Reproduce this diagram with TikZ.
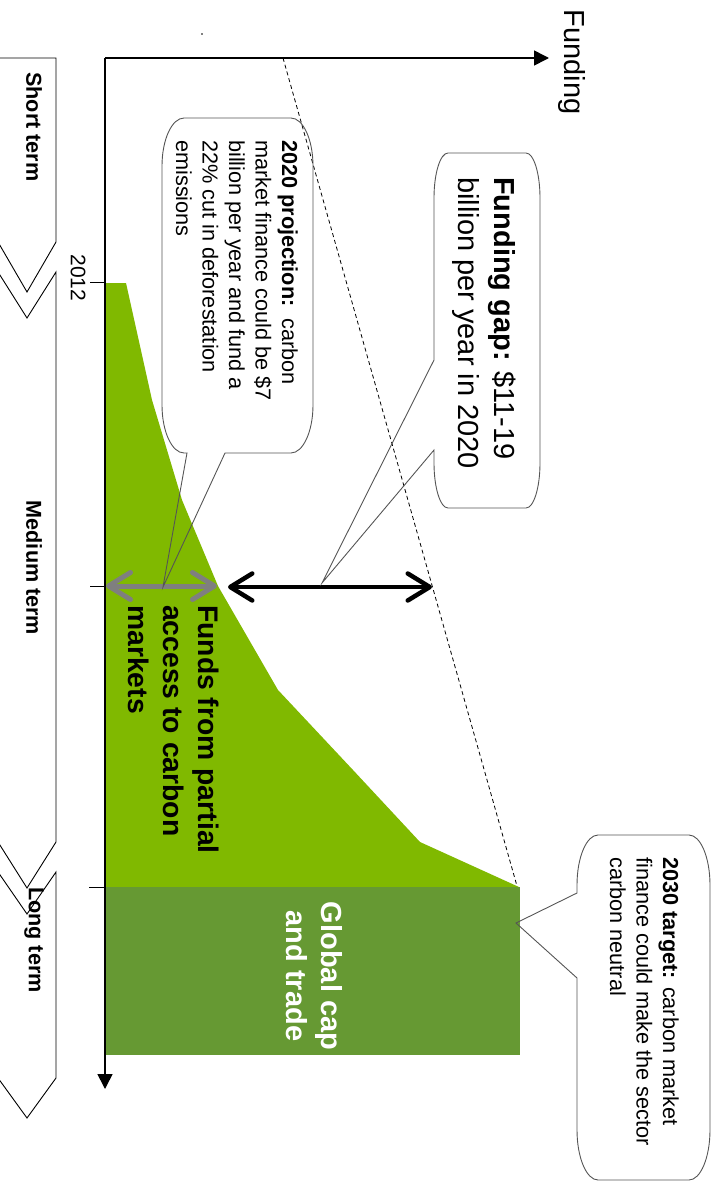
\documentclass[tikz,border=0pt]{standalone}
\usepackage{fontspec}
\setmainfont{Liberation Sans}
\usetikzlibrary{arrows.meta}
\definecolor{leafgreen}{RGB}{128,185,0}
\definecolor{capgreen}{RGB}{102,153,51}
\definecolor{fundgray}{RGB}{127,127,127}
\definecolor{bubbleline}{RGB}{85,85,85}

% Rounded speech bubble with elliptical corners.
% #1 left, #2 top, #3 right, #4 bottom, #5 x radius, #6 y radius,
% #7 path piece on the bottom edge, #8 path piece on the left edge
\newcommand{\bubblepath}[8]{%
  ({#1+#5},#2) -- ({#3-#5},#2)
  .. controls ({#3-0.45*#5},#2) and (#3,{#2+0.45*#6}) .. (#3,{#2+#6})
  -- (#3,{#4-#6})
  .. controls (#3,{#4-0.45*#6}) and ({#3-0.45*#5},#4) .. ({#3-#5},#4)
  #7 -- ({#1+#5},#4)
  .. controls ({#1+0.45*#5},#4) and (#1,{#4-0.45*#6}) .. (#1,{#4-#6})
  #8 -- (#1,{#2+#6})
  .. controls (#1,{#2+0.45*#6}) and ({#1+0.45*#5},#2) .. ({#1+#5},#2) -- cycle}

\begin{document}
\begin{tikzpicture}[x=1pt,y=-1pt,
  phase/.style={draw=black, line width=0.9pt, fill=white},
  axisline/.style={line width=1.6pt, -{Triangle[length=15pt,width=15pt]}},
  tickline/.style={line width=0.9pt},
  bubble/.style={draw=bubbleline, line width=0.9pt},
  vtext/.style={rotate=-90, inner sep=0pt},
  gaparrow/.style={line width=4.5pt, >={Straight Barb[length=22pt,width=27pt,round]}, <->},
  trend/.style={line width=0.8pt, dash pattern=on 4pt off 3pt}
]
\useasboundingbox (0,0) rectangle (720,1183);

% time phases along the left edge
\draw[phase] (-2,58) -- (56,58) -- (56,242) -- (27,292) -- (-2,242) -- cycle;
\draw[phase] (-2,272) -- (27,318) -- (56,272) -- (56,842) -- (27,888) -- (-2,842) -- cycle;
\draw[phase] (-2,872) -- (27,914) -- (56,872) -- (56,1078) -- (27,1118) -- (-2,1078) -- cycle;
\node[vtext, font=\bfseries\fontsize{21.6}{26}\selectfont] (short) at (34,127) {Short term};
\node[vtext, font=\bfseries\fontsize{21.6}{26}\selectfont] (medium) at (34,568) {Medium term};
\node[vtext, font=\bfseries\fontsize{21.6}{26}\selectfont] (long) at (34,940) {Long term};

% funding areas
\fill[leafgreen] (105,283) -- (126,283) -- (152,400) -- (182,500) -- (218,586)
  -- (278,690) -- (353,770) -- (420,842) -- (519,887) -- (105,887) -- cycle;
\fill[capgreen] (105,887) rectangle (520,1055);

% axes
\coordinate (origin) at (105,58);
\coordinate (timeend) at (105,1089);
\coordinate (fundend) at (549,58);
\draw[axisline] (origin) -- (timeend);
\draw[axisline] (origin) -- (fundend);
\node[vtext, font=\fontsize{29}{34}\selectfont] (fundlabel) at (572,62) {Funding};

% year ticks
\coordinate (y2012) at (105,282);
\coordinate (y2020) at (105,586);
\coordinate (y2030) at (105,887);
\draw[tickline] (y2012) -- ++(-15,0);
\draw[tickline] (y2020) -- ++(-15,0);
\draw[tickline] (y2030) -- ++(-16,0);
\node[vtext, font=\fontsize{21}{25}\selectfont] (yr2012) at (78,278) {2012};

% required funding trend
\coordinate (trendtop) at (283,58);
\coordinate (trendend) at (517,886);
\draw[trend] (trendtop) -- (trendend);

% market funds and funding gap in 2020
\coordinate (mktlow) at (106,586);
\coordinate (mkthigh) at (217,586);
\coordinate (gaplow) at (228,587);
\coordinate (gaphigh) at (432,587);
\draw[gaparrow, draw=fundgray, line width=5pt] (mktlow) -- (mkthigh);
\draw[gaparrow, draw=black] (gaplow) -- (gaphigh);

\node[vtext, anchor=north west, align=left,
  font=\bfseries\fontsize{28.3}{35}\selectfont] (fundstext) at (219,605)
  {Funds from partial\\access to carbon\\markets};
\node[vtext, anchor=north, align=center, text=white,
  font=\bfseries\fontsize{29}{35}\selectfont] (captext) at (343,976)
  {Global cap\\and trade};

% speech bubbles
\coordinate (projtip) at (163,587);
\coordinate (gaptip) at (322,583);
\coordinate (targettip) at (516,923);
\draw[bubble] \bubblepath{162}{118}{313}{453}{22}{48}
  {-- (225,453) -- (projtip) -- (187,453)}{};
\draw[bubble] \bubblepath{434}{153}{540}{508}{14}{45}
  {}{-- (434,450) -- (gaptip) -- (434,360)};
\draw[bubble] \bubblepath{577}{835}{710}{1180}{21}{50}
  {}{-- (577,978) -- (targettip) -- (577,893)};

\node[vtext, anchor=north west, align=left,
  font=\fontsize{21.7}{26.5}\selectfont] (projtext) at (298,140)
  {\textbf{2020 projection:}\ \ carbon\\market finance could be \$7\\billion per year and fund a\\22\% cut in deforestation\\emissions};
\node[vtext, anchor=north west, align=left,
  font=\fontsize{29}{36}\selectfont] (gaptext) at (516,177)
  {\textbf{Funding gap:} \$11-19\\billion per year in 2020};
\node[vtext, anchor=north west, align=left,
  font=\fontsize{21.7}{26.5}\selectfont] (targettext) at (679,857)
  {\textbf{2030 target:} carbon market\\finance could make the sector\\carbon neutral};

\fill (202,34) circle (0.8);
\end{tikzpicture}
\end{document}
